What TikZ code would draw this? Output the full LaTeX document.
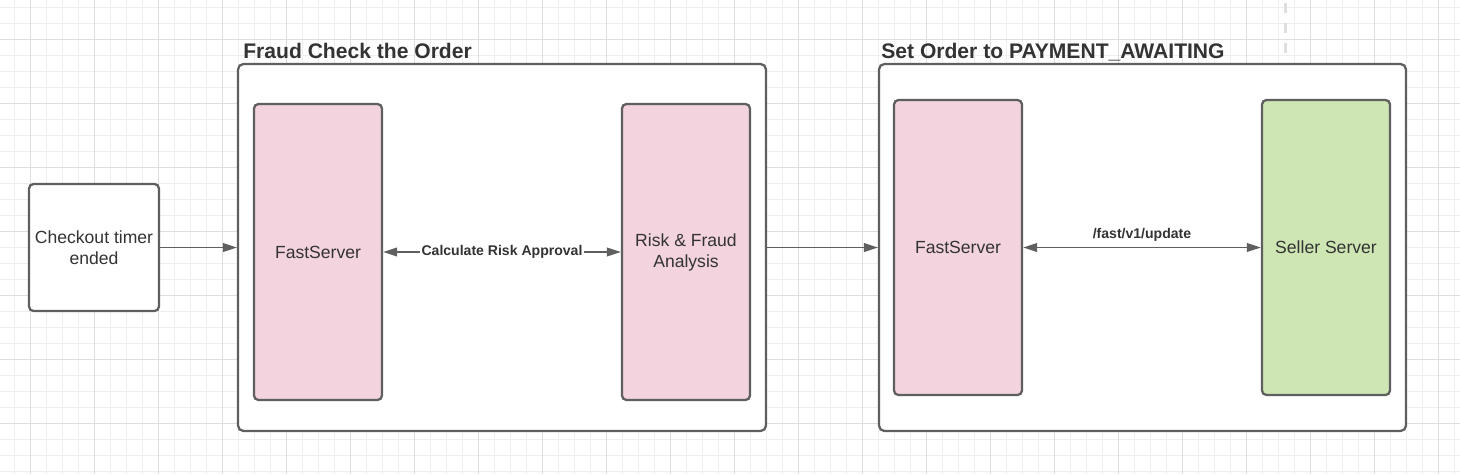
\documentclass[tikz,border=0pt]{standalone}
\usepackage{fontspec}
\setmainfont{Liberation Sans}
\usetikzlibrary{arrows.meta,positioning}

\definecolor{edge}{HTML}{5F5F5F}
\definecolor{ink}{HTML}{333333}
\definecolor{serverpink}{HTML}{F2D3DE}
\definecolor{sellergreen}{HTML}{CEE6B3}
\definecolor{gridminor}{HTML}{EEEEEE}
\definecolor{gridmajor}{HTML}{DEDEDE}

\begin{document}
\begin{tikzpicture}[
    x=0.02cm, y=-0.02cm,
    box/.style={
        rectangle,
        rounded corners=2.5pt,
        draw=edge,
        line width=1.3pt,
        fill=#1,
        minimum width=2.56cm,
        minimum height=5.92cm,
        align=center,
        text=ink,
        font=\fontsize{10}{12}\selectfont
    },
    frame/.style={
        rectangle,
        rounded corners=3pt,
        draw=edge,
        line width=1.3pt,
        fill=white,
        minimum width=10.56cm,
        minimum height=7.34cm
    },
    title/.style={
        anchor=base west,
        inner sep=0pt,
        text=ink,
        font=\fontsize{12}{14}\selectfont\bfseries
    },
    arrow/.style={
        draw=edge,
        line width=0.9pt,
        #1
    },
    label/.style={
        font=\fontsize{8}{10}\selectfont\bfseries,
        text=ink,
        inner sep=1pt
    }
]

\useasboundingbox (0,0) rectangle (1460,474);

% background grid
\foreach \gx in {0,...,91}
    \draw[gridminor, line width=0.5pt] (14.7+16*\gx,0) -- (14.7+16*\gx,474);
\foreach \gy in {0,...,29}
    \draw[gridminor, line width=0.5pt] (0,7.3+16*\gy) -- (1460,7.3+16*\gy);
\foreach \gx in {0,...,22}
    \draw[gridmajor, line width=0.6pt] (30.7+64*\gx,0) -- (30.7+64*\gx,474);
\foreach \gy in {0,...,6}
    \draw[gridmajor, line width=0.6pt] (0,39.3+64*\gy) -- (1460,39.3+64*\gy);

% page break marker
\draw[gridmajor, line width=1.7pt, dash pattern=on 5.7pt off 5.7pt] (1285,3) -- (1285,56);

% start
\node[box=white, minimum height=2.54cm] (timer) at (94,247.5) {Checkout timer\\ended};

% group: fraud check
\node[frame] (fraud) at (502,247.5) {};
\node[title] (fraudtitle) at (243,58) {Fraud Check the Order};
\node[box=serverpink] (fast1) at (318,252) {FastServer};
\node[box=serverpink] (risk) at (686,252) {Risk \& Fraud\\Analysis};

% group: payment awaiting
\node[frame, minimum width=10.54cm] (payment) at (1142.5,247.5) {};
\node[title] (paymenttitle) at (881,58) {Set Order to PAYMENT\_AWAITING};
\node[box=serverpink, minimum height=5.9cm] (fast2) at (958,247.5) {FastServer};
\node[box=sellergreen, minimum height=5.9cm] (seller) at (1326,247.5) {Seller Server};

% connectors
\draw[arrow={-{Triangle[length=8pt,width=5pt]}}] (timer) -- (fraud);
\draw[arrow={-{Triangle[length=8pt,width=5pt]}}] (fraud) -- (payment);
\draw[arrow={{Triangle[length=8pt,width=5pt]}-{Triangle[length=8pt,width=5pt]}}] (fast1) -- (risk)
    node[midway, label, fill=white] {Calculate Risk Approval};
\draw[arrow={{Triangle[length=8pt,width=5pt]}-{Triangle[length=8pt,width=5pt]}}] (fast2) -- (seller)
    node[midway, label, above=2pt] {/fast/v1/update};

\end{tikzpicture}
\end{document}
